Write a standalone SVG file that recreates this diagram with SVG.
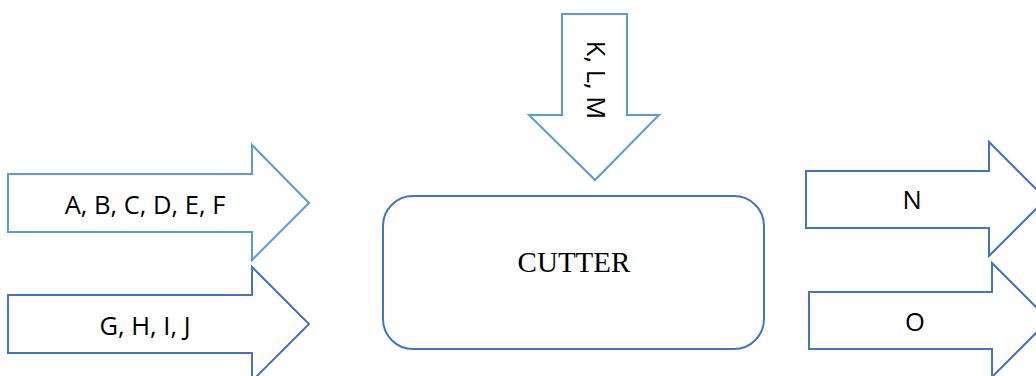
<svg xmlns="http://www.w3.org/2000/svg" width="1036" height="376" viewBox="0 0 1036 376">
<style>
.lb{fill:#fff;stroke:#5B9BD5;stroke-width:2}
.db{fill:#fff;stroke:#4472C4;stroke-width:2}
.t{font-family:"Open Sans","Liberation Sans",Arial,sans-serif;font-size:25.5px;fill:#000;text-anchor:middle}
.s{font-family:"Liberation Serif","Times New Roman",serif;font-size:29px;fill:#000;text-anchor:middle}
</style>
<rect width="1036" height="376" fill="#fff"/>
<g id="connectors">
<g id="in1"><path class="lb" d="M8,174 H252 V145 L309,203 L252,260 V232 H8 Z"/><text class="t" x="145" y="214">A, B, C, D, E, F</text></g>
<g id="in2"><path class="db" d="M8,295 H252 V267 L309,324 L252,381 V353 H8 Z"/><text class="t" x="145" y="335">G, H, I, J</text></g>
<g id="in3"><path class="lb" d="M562,14 H627 V115 H659 L595,180 L529,115 H562 Z"/><text class="t" transform="translate(587,80) rotate(90)">K, L, M</text></g>
<g id="out1"><path class="db" d="M806,171 H989 V142 L1046,199 L989,256 V228 H806 Z"/><text class="t" x="912" y="209">N</text></g>
<g id="out2"><path class="db" d="M809,292 H992 V263 L1049,320 L992,377 V349 H809 Z"/><text class="t" x="915" y="331">O</text></g>
</g>
<g id="cutter"><rect class="db" x="383" y="196" width="381" height="153" rx="30" ry="30" stroke-width="2.5"/><text class="s" x="574" y="272">CUTTER</text></g>
</svg>
